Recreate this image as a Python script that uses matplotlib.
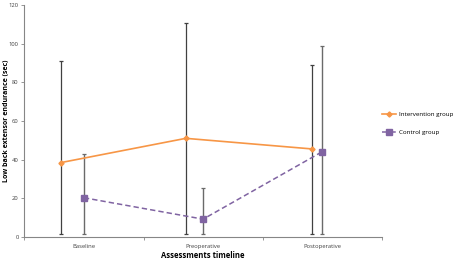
import matplotlib
matplotlib.use("Agg")
import matplotlib.pyplot as plt
import numpy as np

categories = ["Baseline", "Preoperative", "Postoperative"]
intervention_mean = [38.4, 51.0, 45.5]
intervention_upper = [91.0, 110.9, 89.2]
intervention_lower = [1.2, 1.2, 1.2]
control_mean = [20.2, 9.1, 44.1]
control_upper = [43.0, 25.5, 99.0]
control_lower = [1.2, 1.2, 1.2]
yticks = [0, 20, 40, 60, 80, 100, 120]

# horizontal offsets of the intervention points within each category
int_offsets = [-0.195, -0.145, -0.086]

plt.rcParams['font.family'] = ['Open Sans', 'DejaVu Sans']

fig = plt.figure(figsize=(4.55, 2.63), dpi=100)
ax = fig.add_axes([0.0534, 0.10, 0.786, 0.880])

x = np.arange(len(categories))
xi = x + np.array(int_offsets)

orange = "#F79646"
purple = "#8064A2"

ie = [np.array(intervention_mean) - np.array(intervention_lower),
      np.array(intervention_upper) - np.array(intervention_mean)]
ce = [np.array(control_mean) - np.array(control_lower),
      np.array(control_upper) - np.array(control_mean)]

ax.errorbar(xi, intervention_mean, yerr=ie, fmt='none', ecolor="#404040",
            elinewidth=0.9, capsize=1.3, capthick=0.9, zorder=2)
ax.errorbar(x, control_mean, yerr=ce, fmt='none', ecolor="#6a6a6a",
            elinewidth=1.0, capsize=1.3, capthick=0.9, zorder=2)

ax.plot(xi, intervention_mean, color=orange, lw=1.2, marker='D', ms=2.6,
        mfc=orange, mec=orange, label="Intervention group", zorder=3)
ax.plot(x, control_mean, color=purple, lw=1.1, ls=(0, (3.5, 2)), marker='s', ms=4,
        mfc=purple, mec=purple, label="Control group", zorder=3)

ax.set_xlim(-0.5, 2.5)
ax.set_ylim(0, 120)
ax.set_yticks(yticks)
ax.set_yticklabels([str(v) for v in yticks], fontsize=4.2, color="#404040")
ax.set_xticks(x)
ax.set_xticklabels(categories, fontsize=4.2, color="#404040")
ax.tick_params(axis='x', length=0, pad=5)
ax.tick_params(axis='y', length=2, width=0.6, color="#868686", pad=2)
ax.set_xticks([-0.5, 0.5, 1.5, 2.5], minor=True)
ax.tick_params(axis='x', which='minor', length=2, width=0.6, color="#868686")

for s in ['top', 'right']:
    ax.spines[s].set_visible(False)
for s in ['left', 'bottom']:
    ax.spines[s].set_color("#868686")
    ax.spines[s].set_linewidth(0.8)

ax.set_ylabel("Low back extensor endurance (sec)", fontsize=5, fontweight='bold')
ax.yaxis.set_label_coords(-0.040, 0.5)
ax.set_xlabel("Assessments timeline", fontsize=5.5, fontweight='bold', labelpad=2)

leg = fig.legend(loc='upper left', bbox_to_anchor=(0.835, 0.585), frameon=False,
                 fontsize=4.5, handlelength=2.2, handletextpad=0.4, labelspacing=2.0,
                 borderaxespad=0)

fig.savefig("out.png", dpi=100)
